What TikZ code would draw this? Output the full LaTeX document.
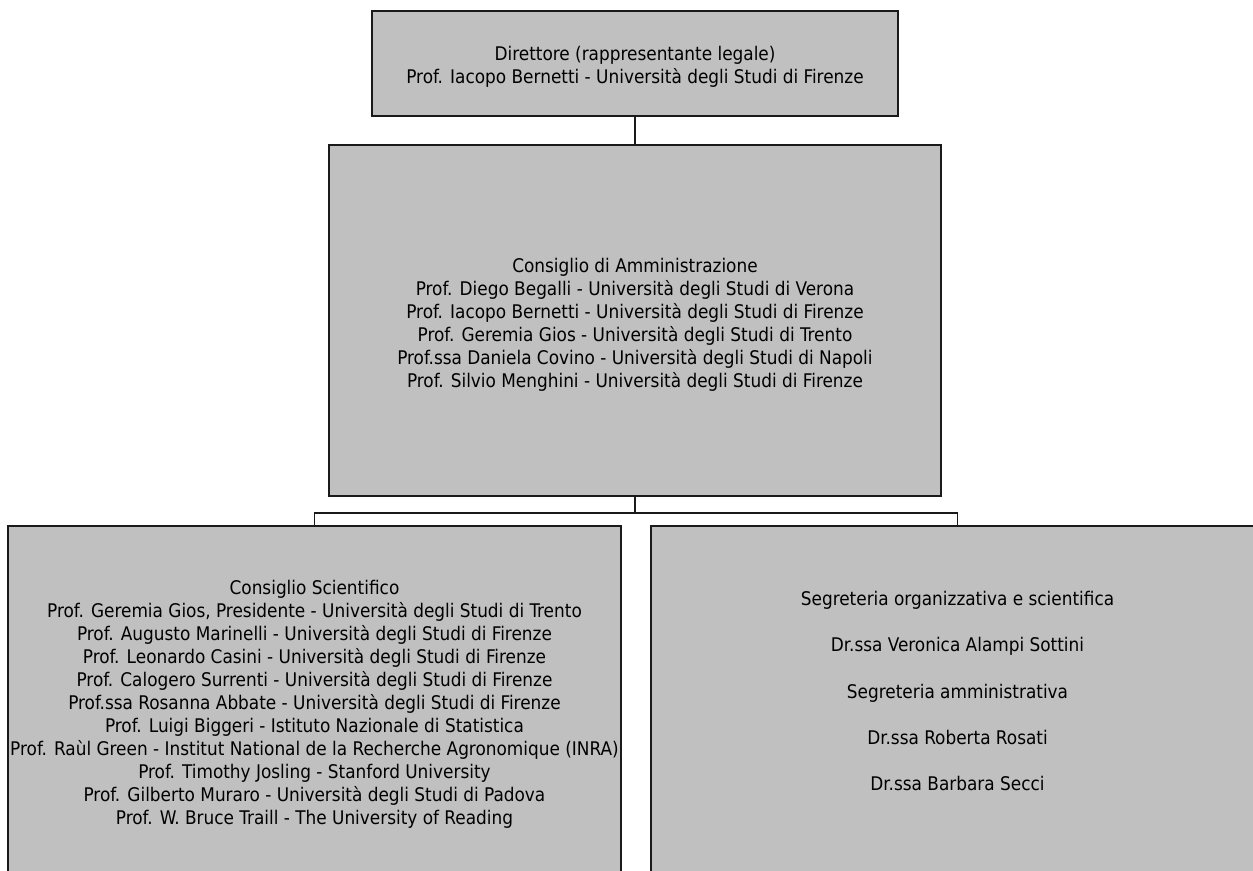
\documentclass[tikz,border=0pt]{standalone}
\usepackage{fontspec}
\setmainfont{DejaVu Sans Condensed}
\definecolor{boxgray}{RGB}{192,192,192}
\definecolor{edge}{RGB}{26,26,26}
\begin{document}
\begin{tikzpicture}[x=0.02cm, y=-0.02cm,
  box/.style={draw=edge, line width=0.9pt, fill=boxgray, inner sep=0pt},
  txt/.style={align=center, inner sep=0pt, font=\fontsize{10.7}{13.1}\selectfont},
  link/.style={draw=edge, line width=0.6pt},
  bar/.style={draw=edge, line width=1.1pt}]
\useasboundingbox (0,0) rectangle (1253,870);
\clip (0,0) rectangle (1253,870);
% director
\node[box, minimum width=10.52cm, minimum height=2.1cm,
  label={[txt, yshift=-0.06cm]center:{Direttore (rappresentante legale)\\
   Prof. Iacopo Bernetti - Università degli Studi di Firenze}}] (dir) at (635,63.5) {};
% board
\node[box, minimum width=12.24cm, minimum height=7.02cm,
  label={[txt, yshift=-0.08cm]center:{Consiglio di Amministrazione\\
   Prof. Diego Begalli - Università degli Studi di Verona\\
   Prof. Iacopo Bernetti - Università degli Studi di Firenze\\
   Prof. Geremia Gios - Università degli Studi di Trento\\
   Prof.ssa Daniela Covino - Università degli Studi di Napoli\\
   Prof. Silvio Menghini - Università degli Studi di Firenze}}] (cda) at (635,320.5) {};
% scientific council
\node[box, minimum width=12.26cm, minimum height=6.96cm,
  label={[txt, yshift=-0.08cm]center:{Consiglio Scientifico\\
   Prof. Geremia Gios, Presidente - Università degli Studi di Trento\\
   Prof. Augusto Marinelli - Università degli Studi di Firenze\\
   Prof. Leonardo Casini - Università degli Studi di Firenze\\
   Prof. Calogero Surrenti - Università degli Studi di Firenze\\
   Prof.ssa Rosanna Abbate - Università degli Studi di Firenze\\
   Prof. Luigi Biggeri - Istituto Nazionale di Statistica\\
   Prof. Raùl Green - Institut National de la Recherche Agronomique (INRA)\\
   Prof. Timothy Josling - Stanford University\\
   Prof. Gilberto Muraro - Università degli Studi di Padova\\
   Prof. W. Bruce Traill - The University of Reading}}] (cs) at (314.5,700) {};
% secretariat
\node[box, minimum width=12.26cm, minimum height=6.96cm,
  label={[txt, yshift=0.18cm]center:{Segreteria organizzativa e scientifica\\[13.1pt]
   Dr.ssa Veronica Alampi Sottini\\[13.1pt]
   Segreteria amministrativa\\[13.1pt]
   Dr.ssa Roberta Rosati\\[13.1pt]
   Dr.ssa Barbara Secci}}] (seg) at (957.5,700) {};
% connectors
\draw[link] (dir.south) -- (cda.north);
\draw[link] (cda.south) -- ++(0,16) coordinate (fork);
\draw[link] (cs.north) |- (fork) -| (seg.north);
\draw[bar] (cs.north |- fork) -- (seg.north |- fork);
\end{tikzpicture}
\end{document}
